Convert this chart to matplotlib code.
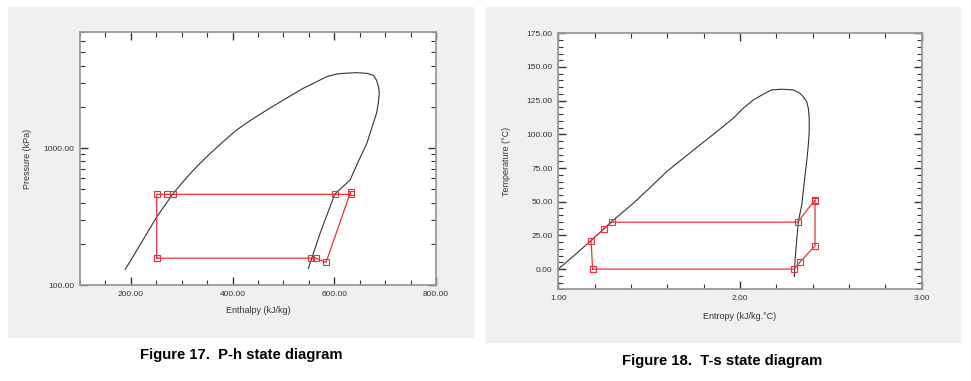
import numpy as np
import matplotlib.pyplot as plt
from matplotlib.patches import Rectangle
from matplotlib.lines import Line2D
from matplotlib.ticker import MultipleLocator, FixedLocator, NullFormatter, FormatStrFormatter

plt.rcParams['font.family'] = ['Liberation Sans', 'DejaVu Sans']

# P-h saturation dome (enthalpy kJ/kg, pressure kPa)
dome_h = [189, 218, 251, 283.5, 300, 316, 336, 356, 381.8, 408, 434, 467, 499.8, 539,
          565.4, 585, 604.7, 618, 644, 664, 676.7, 683, 687, 688.5, 686.6, 683, 673.5,
          664, 647, 631, 601, 572, 549]
dome_p = [130, 196, 315, 467, 553, 646, 773, 912, 1117, 1355, 1582, 1892, 2240, 2730,
          3050, 3320, 3470, 3510, 3550, 3510, 3400, 3135, 2800, 2506, 2120, 1791, 1393,
          1082, 794, 584, 461, 238, 132]

# P-h cycle state points
cyc_h = [250.8, 553.4, 564, 583.7, 632, 632, 601, 283.5, 270.4, 250.8, 250.8]
cyc_p = [157, 157, 157, 146, 477, 459, 459, 459, 459, 459, 157]

# T-s saturation dome (entropy kJ/kg.C, temperature C)
dome_s = [1.0, 1.092, 1.18, 1.294, 1.413, 1.505, 1.597, 1.688, 1.78, 1.872, 1.963, 2.018,
          2.073, 2.128, 2.174, 2.229, 2.293, 2.33, 2.348, 2.367, 2.376, 2.381, 2.381,
          2.376, 2.367, 2.354, 2.34, 2.321, 2.303, 2.299]
dome_t = [0, 10.6, 21.2, 35.3, 48.9, 60.5, 72.4, 82.3, 92.2, 102, 112, 119.4,
          125.5, 129.8, 133, 133.5, 133, 130.5, 128, 124.3, 119.4, 112, 102,
          92.2, 79.8, 65, 47.7, 35.3, 6.9, -5.5]

# T-s cycle state points
cyc_s = [1.189, 2.299, 2.328, 2.413, 2.413, 2.413, 2.317, 1.294, 1.251, 1.18, 1.189]
cyc_t = [0, 0, 4.9, 17.3, 50.8, 51.4, 34.8, 34.8, 29.7, 21.2, 0]

red = '#e8333a'
grey_bg = '#f0f0f0'
tick_col = '#333333'

fig = plt.figure(figsize=(9.71, 3.81), dpi=100)

# grey panels behind each chart
fig.patches.append(Rectangle((8 / 971, 1 - 337 / 381), 465 / 971, 330 / 381,
                             transform=fig.transFigure, color=grey_bg, zorder=-5))
fig.patches.append(Rectangle((486 / 971, 1 - 342 / 381), 474 / 971, 335 / 381,
                             transform=fig.transFigure, color=grey_bg, zorder=-5))
fig.lines.append(Line2D([970.5 / 971, 970.5 / 971], [0, 1], transform=fig.transFigure,
                        color='#d8d8d8', lw=1, zorder=-5))


def style_axes(ax):
    for sp in ax.spines.values():
        sp.set_color('#9a9a9a')
        sp.set_linewidth(1.3)
    ax.tick_params(which='both', direction='in', top=True, right=True, colors=tick_col,
                   labelsize=6, labelcolor='#333333', pad=4)
    ax.tick_params(which='major', length=6, width=1)
    ax.tick_params(which='minor', length=3.5, width=0.8)


# ---- P-h diagram ----
ax1 = fig.add_axes([80 / 971, 1 - 285 / 381, 356 / 971, 252.7 / 381])
ax1.plot(dome_h, dome_p, color='#333333', lw=0.8, solid_joinstyle='round')
ax1.plot(cyc_h, cyc_p, color=red, lw=0.9, marker='s', ms=5, mfc='none', mec=red, mew=0.8)
ax1.set_yscale('log')
ax1.set_xlim(100, 800)
ax1.set_ylim(100, 7000)
ax1.xaxis.set_major_locator(FixedLocator([200, 400, 600, 800]))
ax1.xaxis.set_minor_locator(MultipleLocator(50))
ax1.xaxis.set_major_formatter(FormatStrFormatter('%.2f'))
ax1.yaxis.set_major_locator(FixedLocator([100, 1000]))
ax1.yaxis.set_minor_locator(FixedLocator([200, 300, 400, 500, 600, 700, 800, 900,
                                          2000, 3000, 4000, 5000, 6000, 7000]))
ax1.yaxis.set_major_formatter(FormatStrFormatter('%.2f'))
ax1.yaxis.set_minor_formatter(NullFormatter())
style_axes(ax1)
ax1.set_xlabel('Enthalpy (kJ/kg)', fontsize=6.5, color='#333333', labelpad=6)
ax1.set_ylabel('Pressure (kPa)', fontsize=6.5, color='#333333', labelpad=8)

# ---- T-s diagram ----
ax2 = fig.add_axes([558.3 / 971, 1 - 289.3 / 381, 363.4 / 971, 256 / 381])
ax2.plot(dome_s, dome_t, color='#333333', lw=0.8, solid_joinstyle='round')
ax2.plot(cyc_s, cyc_t, color=red, lw=0.9, marker='s', ms=5, mfc='none', mec=red, mew=0.8)
ax2.set_xlim(1.0, 3.0)
ax2.set_ylim(-15, 175)
ax2.xaxis.set_major_locator(MultipleLocator(1.0))
ax2.xaxis.set_minor_locator(MultipleLocator(0.2))
ax2.xaxis.set_major_formatter(FormatStrFormatter('%.2f'))
ax2.yaxis.set_major_locator(FixedLocator([0, 25, 50, 75, 100, 125, 150, 175]))
ax2.yaxis.set_minor_locator(MultipleLocator(5))
ax2.yaxis.set_major_formatter(FormatStrFormatter('%.2f'))
style_axes(ax2)
ax2.set_xlabel('Entropy (kJ/kg.°C)', fontsize=6.5, color='#333333', labelpad=7)
ax2.set_ylabel('Temperature (°C)', fontsize=6.5, color='#333333', labelpad=11)

# captions
fig.text(241 / 971, 1 - 355 / 381, 'Figure 17.  P-h state diagram', ha='center', va='center',
         fontsize=10.7, fontweight='bold')
fig.text(722.5 / 971, 1 - 361 / 381, 'Figure 18.  T-s state diagram', ha='center', va='center',
         fontsize=10.7, fontweight='bold')

fig.savefig('out.png', dpi=100)
